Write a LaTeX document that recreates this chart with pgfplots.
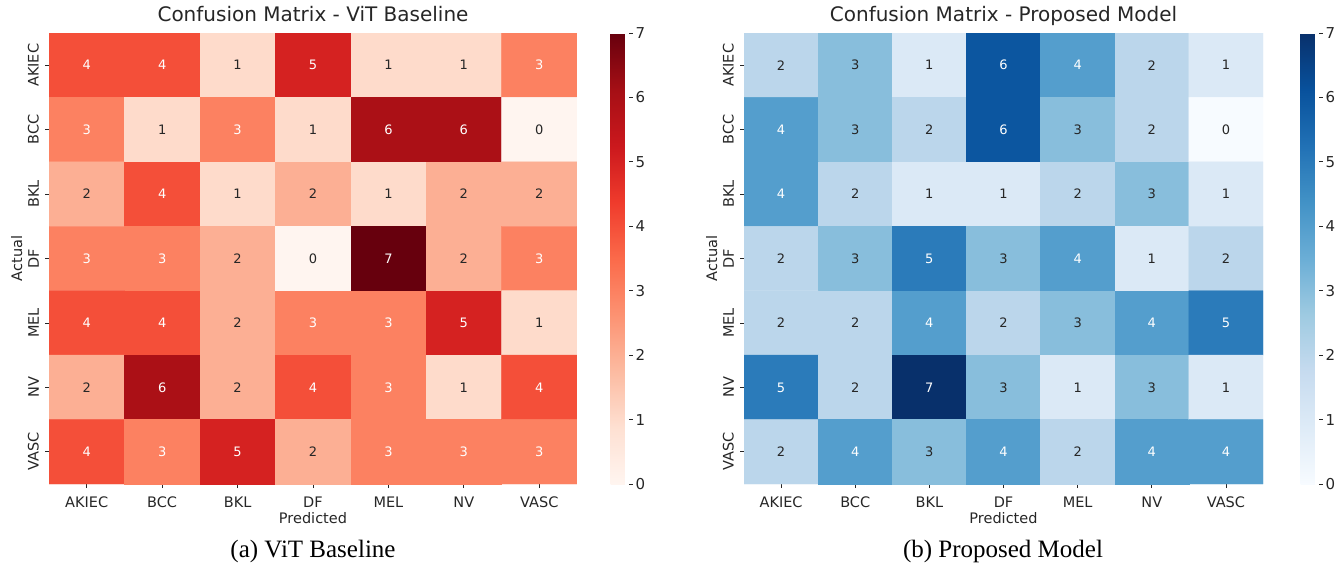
\documentclass[border=0pt]{standalone}
\usepackage{pgfplots}
\pgfplotsset{compat=1.18}
\usepackage{pgfplotstable}
\usepackage{fontspec}
\setmainfont{DejaVu Sans}
\newfontfamily\capfont{Liberation Serif}
\definecolor{txt}{HTML}{262626}

\pgfplotstableread[row sep=\\]{
x y v\\
0 0 4\\ 1 0 4\\ 2 0 1\\ 3 0 5\\ 4 0 1\\ 5 0 1\\ 6 0 3\\
0 1 3\\ 1 1 1\\ 2 1 3\\ 3 1 1\\ 4 1 6\\ 5 1 6\\ 6 1 0\\
0 2 2\\ 1 2 4\\ 2 2 1\\ 3 2 2\\ 4 2 1\\ 5 2 2\\ 6 2 2\\
0 3 3\\ 1 3 3\\ 2 3 2\\ 3 3 0\\ 4 3 7\\ 5 3 2\\ 6 3 3\\
0 4 4\\ 1 4 4\\ 2 4 2\\ 3 4 3\\ 4 4 3\\ 5 4 5\\ 6 4 1\\
0 5 2\\ 1 5 6\\ 2 5 2\\ 3 5 4\\ 4 5 3\\ 5 5 1\\ 6 5 4\\
0 6 4\\ 1 6 3\\ 2 6 5\\ 3 6 2\\ 4 6 3\\ 5 6 3\\ 6 6 3\\
}\vit

\pgfplotstableread[row sep=\\]{
x y v\\
0 0 2\\ 1 0 3\\ 2 0 1\\ 3 0 6\\ 4 0 4\\ 5 0 2\\ 6 0 1\\
0 1 4\\ 1 1 3\\ 2 1 2\\ 3 1 6\\ 4 1 3\\ 5 1 2\\ 6 1 0\\
0 2 4\\ 1 2 2\\ 2 2 1\\ 3 2 1\\ 4 2 2\\ 5 2 3\\ 6 2 1\\
0 3 2\\ 1 3 3\\ 2 3 5\\ 3 3 3\\ 4 3 4\\ 5 3 1\\ 6 3 2\\
0 4 2\\ 1 4 2\\ 2 4 4\\ 3 4 2\\ 4 4 3\\ 5 4 4\\ 6 4 5\\
0 5 5\\ 1 5 2\\ 2 5 7\\ 3 5 3\\ 4 5 1\\ 5 5 3\\ 6 5 1\\
0 6 2\\ 1 6 4\\ 2 6 3\\ 3 6 4\\ 4 6 2\\ 5 6 4\\ 6 6 4\\
}\prop

\pgfplotsset{
 cmstyle/.style={
  scale only axis, height=451pt,
  xmin=-0.5,xmax=6.5,ymin=-0.5,ymax=6.5, y dir=reverse, enlargelimits=false,
  axis line style={draw=none},
  xtick={0,...,6}, ytick={0,...,6},
  xticklabels={AKIEC,BCC,BKL,DF,MEL,NV,VASC},
  yticklabels={AKIEC,BCC,BKL,DF,MEL,NV,VASC},
  tick pos=left, tick align=outside, major tick length=4pt,
  tick style={txt, line width=0.8pt},
  ticklabel style={font=\fontsize{14.5}{16}\selectfont, text=txt},
  xticklabel style={anchor=base, yshift=-19pt},
  yticklabel style={rotate=90, anchor=south, inner sep=0pt},
  yticklabel shift=6pt,
  xlabel={Predicted}, ylabel={Actual},
  label style={font=\fontsize{14.5}{16}\selectfont, text=txt},
  xlabel style={at={(axis description cs:0.5,0)}, anchor=base, yshift=-39pt},
  title style={font=\fontsize{20}{24}\selectfont, text=txt, at={(axis description cs:0.5,1)}, anchor=base, yshift=6pt},
  point meta min=0, point meta max=7,
  colorbar,
 },
 cbstyle/.style={
  colorbar style={scale only axis, at={(parent axis.north east)}, anchor=north west,
   xshift=#1, width=18pt, height=451pt, axis line style={draw=none},
   y dir=normal, ytick={0,1,2,3,4,5,6,7}, yticklabels={0,1,2,3,4,5,6,7},
   xtick=\empty, ytick pos=right, yticklabel pos=right, tick align=outside,
   yticklabel shift=0pt,
   major tick length=4pt, tick style={txt, line width=0.8pt},
   yticklabel style={rotate=0, font=\fontsize{15}{17}\selectfont, text=txt, anchor=west, inner sep=0pt, xshift=3pt}},
 },
}

\begin{document}
\begin{tikzpicture}
\path[use as bounding box] (0,0) rectangle (1341pt,-567pt);

\begin{axis}[cmstyle, at={(49pt,-484pt)}, anchor=south west, width=528pt,
  title={Confusion Matrix - ViT Baseline},
  ylabel style={at={(axis description cs:-0.0511,0.5)}, anchor=base},
  colormap={reds}{rgb255=(255,245,240) rgb255=(254,224,210) rgb255=(252,187,161) rgb255=(252,146,114) rgb255=(251,106,74) rgb255=(239,59,44) rgb255=(203,24,29) rgb255=(165,15,21) rgb255=(103,0,13)},
  cbstyle=25pt]
\addplot[matrix plot*, mesh/cols=7, point meta=explicit] table[x=x,y=y,meta=v]{\vit};
\addplot[draw=none, mark=none, point meta=explicit symbolic,
  nodes near coords={\ifnum\pgfplotspointmeta>2\relax\color{white}\fi\pgfplotspointmeta},
  nodes near coords align=center,
  every node near coord/.append style={font=\fontsize{13}{15}\selectfont, text=txt, inner sep=0pt}]
  table[x=x,y=y,meta=v]{\vit};
\end{axis}

\begin{axis}[cmstyle, at={(744pt,-484pt)}, anchor=south west, width=519pt,
  title={Confusion Matrix - Proposed Model},
  ylabel style={at={(axis description cs:-0.052,0.5)}, anchor=base},
  colormap={blues}{rgb255=(247,251,255) rgb255=(222,235,247) rgb255=(198,219,239) rgb255=(158,202,225) rgb255=(107,174,214) rgb255=(66,146,198) rgb255=(33,113,181) rgb255=(8,81,156) rgb255=(8,48,107)},
  cbstyle=29pt]
\addplot[matrix plot*, mesh/cols=7, point meta=explicit] table[x=x,y=y,meta=v]{\prop};
\addplot[draw=none, mark=none, point meta=explicit symbolic,
  nodes near coords={\ifnum\pgfplotspointmeta>3\relax\color{white}\fi\pgfplotspointmeta},
  nodes near coords align=center,
  every node near coord/.append style={font=\fontsize{13}{15}\selectfont, text=txt, inner sep=0pt}]
  table[x=x,y=y,meta=v]{\prop};
\end{axis}

\node[anchor=base, font=\capfont\fontsize{25}{29}\selectfont] at (313pt,-557pt) {(a) ViT Baseline};
\node[anchor=base, font=\capfont\fontsize{25}{29}\selectfont] at (1003pt,-557pt) {(b) Proposed Model};
\end{tikzpicture}
\end{document}
